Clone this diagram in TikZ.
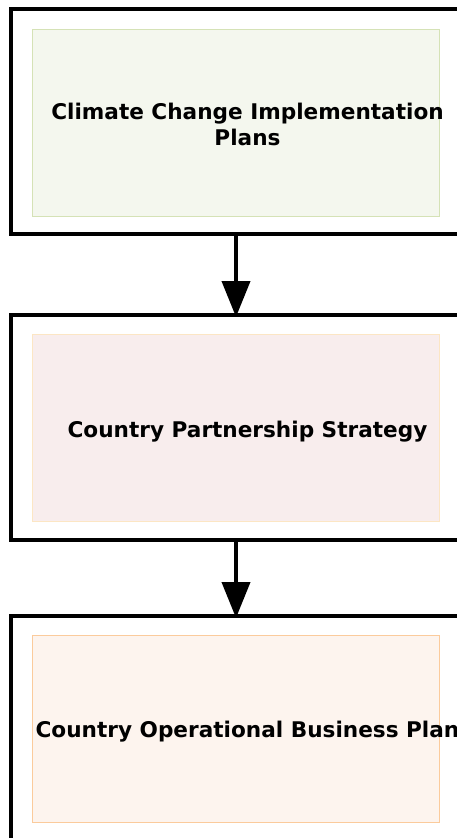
\documentclass[tikz,border=0pt]{standalone}
\usepackage{fontspec}
\setmainfont{DejaVu Sans}
\usetikzlibrary{arrows.meta, positioning}
\definecolor{PlanFill}     {HTML}{F4F7EE}
\definecolor{PlanLine}     {HTML}{D5E2B6}
\definecolor{PartnerFill}  {HTML}{F8EDED}
\definecolor{PartnerLine}  {HTML}{FCE6C4}
\definecolor{BusinessFill} {HTML}{FDF4EE}
\definecolor{BusinessLine} {HTML}{FBCB9C}

\begin{document}
\begin{tikzpicture}[
  x=1pt, y=-1pt,
  frame/.style = {draw=black, line width=4pt,
                  minimum width=450pt, minimum height=225pt},
  panel/.style = {line width=0.8pt, minimum width=407pt, minimum height=187pt},
  label/.style = {font=\bfseries\fontsize{21.6}{25.9}\selectfont,
                  align=center, inner sep=0pt},
  arr/.style   = {-{Triangle[width=28pt,length=36pt]}, line width=4pt,
                  shorten >=-4pt},
]
\useasboundingbox (0,0) rectangle (457,838);
\node[frame] (f1) at (236,121) {};
\node[frame, below=77.5pt of f1] (f2) {};
\node[frame, below=72pt of f2]   (f3) {};
\node[panel, draw=PlanLine, fill=PlanFill, yshift=-1.5pt]   (p1) at (f1.center) {};
\node[panel, draw=PartnerLine, fill=PartnerFill, yshift=-0.5pt] (p2) at (f2.center) {};
\node[panel, draw=BusinessLine, fill=BusinessFill] (p3) at (f3.center) {};
\node[label, xshift=11.5pt, yshift=-1.5pt] (t1) at (p1.center) {Climate Change Implementation\\Plans};
\node[label, xshift=11.5pt, yshift=-3.5pt] (t2) at (p2.center) {Country Partnership Strategy};
\node[label, xshift=11.5pt, yshift=-3pt]   (t3) at (p3.center) {Country Operational Business Plan};
\foreach \x/\y in {f1/f2,f2/f3}
  \draw[arr] (\x) -- (\y);
\end{tikzpicture}
\end{document}
